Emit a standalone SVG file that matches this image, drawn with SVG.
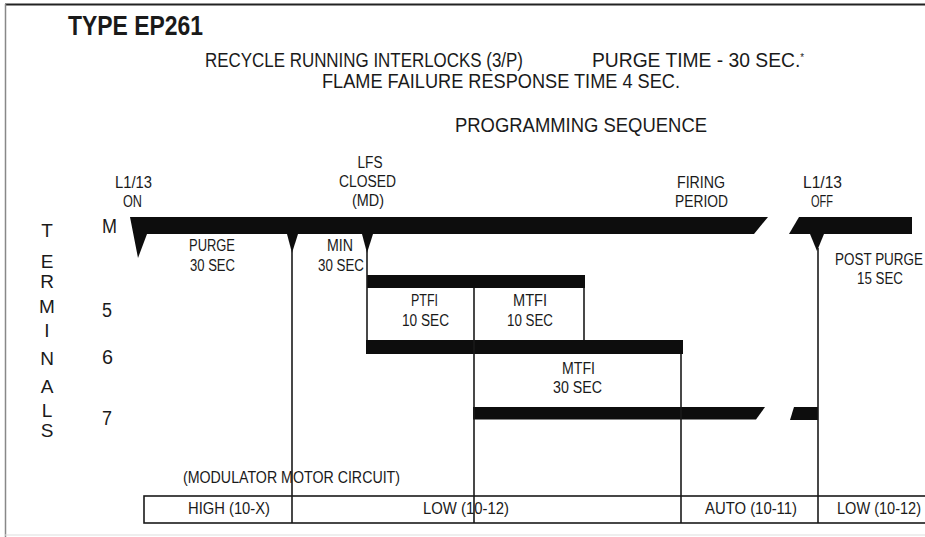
<svg xmlns="http://www.w3.org/2000/svg" width="925" height="537" viewBox="0 0 925 537">
<style>
text{font-family:"Liberation Sans",Arial,sans-serif;fill:#1a1a1a}
.t{font-size:27px;font-weight:bold}
.h{font-size:20px}
.s{font-size:16px;text-anchor:middle}
.v{font-size:19px;text-anchor:middle}
.n{font-size:20px}
.bar{fill:#0d0d0d}
.ln{stroke:#1a1a1a;stroke-width:1.6;fill:none}
</style>
<rect x="0" y="0" width="925" height="537" fill="#fff"/>
<g id="frame">
<line x1="5" y1="4.5" x2="925" y2="4.5" stroke="#222" stroke-width="2"/>
<line x1="5.5" y1="4" x2="5.5" y2="537" stroke="#888" stroke-width="1.5"/>
<line x1="5" y1="535" x2="925" y2="535" stroke="#ddd" stroke-width="1"/>
</g>
<g id="header">
<text class="t" x="68" y="35" textLength="135" lengthAdjust="spacingAndGlyphs">TYPE EP261</text>
<text class="h" x="205" y="67" textLength="318" lengthAdjust="spacingAndGlyphs">RECYCLE RUNNING INTERLOCKS (3/P)</text>
<text class="h" x="592" y="67" textLength="212" lengthAdjust="spacingAndGlyphs">PURGE TIME - 30 SEC.<tspan dy="-6" style="font-size:10px">*</tspan></text>
<text class="h" x="322" y="88" textLength="358" lengthAdjust="spacingAndGlyphs">FLAME FAILURE RESPONSE TIME 4 SEC.</text>
<text class="h" x="455" y="132" textLength="252" lengthAdjust="spacingAndGlyphs">PROGRAMMING SEQUENCE</text>
</g>
<g id="terminals-label">
<text class="v" x="47" y="237">T</text>
<text class="v" x="47" y="268">E</text>
<text class="v" x="47" y="288">R</text>
<text class="v" x="47" y="313">M</text>
<text class="v" x="47" y="337">I</text>
<text class="v" x="47" y="365">N</text>
<text class="v" x="47" y="393">A</text>
<text class="v" x="47" y="417">L</text>
<text class="v" x="47" y="437">S</text>
</g>
<g id="terminal-numbers">
<text class="n" x="102" y="233" textLength="15" lengthAdjust="spacingAndGlyphs">M</text>
<text class="n" x="102" y="317" textLength="10" lengthAdjust="spacingAndGlyphs">5</text>
<text class="n" x="102" y="364" textLength="11" lengthAdjust="spacingAndGlyphs">6</text>
<text class="n" x="102" y="425" textLength="10" lengthAdjust="spacingAndGlyphs">7</text>
</g>
<g id="event-labels">
<text class="s" x="133.5" y="188" textLength="37" lengthAdjust="spacingAndGlyphs">L1/13</text>
<text class="s" x="132.5" y="207" textLength="19" lengthAdjust="spacingAndGlyphs">ON</text>
<text class="s" x="370" y="168" textLength="25" lengthAdjust="spacingAndGlyphs">LFS</text>
<text class="s" x="367.5" y="187" textLength="57" lengthAdjust="spacingAndGlyphs">CLOSED</text>
<text class="s" x="368" y="206" textLength="32" lengthAdjust="spacingAndGlyphs">(MD)</text>
<text class="s" x="701" y="188" textLength="48" lengthAdjust="spacingAndGlyphs">FIRING</text>
<text class="s" x="701.5" y="207" textLength="53" lengthAdjust="spacingAndGlyphs">PERIOD</text>
<text class="s" x="822.5" y="188" textLength="39" lengthAdjust="spacingAndGlyphs">L1/13</text>
<text class="s" x="822" y="207" textLength="22" lengthAdjust="spacingAndGlyphs">OFF</text>
</g>
<g id="bar-M">
<polygon class="bar" points="130,217 768,217 754,234 147,234 138,258"/>
<polygon class="bar" points="287,234 298,234 292,253"/>
<polygon class="bar" points="362,234 373,234 367,253"/>
<polygon class="bar" points="799,217 912,217 912,234 789,234"/>
<polygon class="bar" points="810,234 824,234 817,251"/>
</g>
<g id="bar-5"><rect class="bar" x="367" y="275" width="218" height="13"/></g>
<g id="bar-6"><rect class="bar" x="366" y="340" width="317" height="14"/></g>
<g id="bar-7">
<polygon class="bar" points="473,407 765,407 756,419.5 473,419.5"/>
<polygon class="bar" points="794,407 818,407 818,420 790,420"/>
</g>
<g id="connectors">
<line class="ln" x1="292" y1="250" x2="292" y2="523"/>
<line class="ln" x1="367" y1="250" x2="367" y2="340"/>
<line class="ln" x1="474" y1="288" x2="474" y2="523"/>
<line class="ln" x1="584" y1="288" x2="584" y2="340"/>
<line class="ln" x1="681" y1="354" x2="681" y2="523"/>
<line class="ln" x1="818" y1="248" x2="818" y2="523"/>
</g>
<g id="interval-labels">
<text class="s" x="212" y="251" textLength="46" lengthAdjust="spacingAndGlyphs">PURGE</text>
<text class="s" x="212.5" y="271" textLength="45" lengthAdjust="spacingAndGlyphs">30 SEC</text>
<text class="s" x="340" y="251" textLength="26" lengthAdjust="spacingAndGlyphs">MIN</text>
<text class="s" x="341" y="271" textLength="46" lengthAdjust="spacingAndGlyphs">30 SEC</text>
<text class="s" x="424.5" y="306" textLength="27" lengthAdjust="spacingAndGlyphs">PTFI</text>
<text class="s" x="425.5" y="326" textLength="47" lengthAdjust="spacingAndGlyphs">10 SEC</text>
<text class="s" x="530" y="306" textLength="34" lengthAdjust="spacingAndGlyphs">MTFI</text>
<text class="s" x="530" y="326" textLength="46" lengthAdjust="spacingAndGlyphs">10 SEC</text>
<text class="s" x="578.5" y="374" textLength="33" lengthAdjust="spacingAndGlyphs">MTFI</text>
<text class="s" x="577.5" y="393" textLength="49" lengthAdjust="spacingAndGlyphs">30 SEC</text>
<text class="s" x="879" y="265" textLength="88" lengthAdjust="spacingAndGlyphs">POST PURGE</text>
<text class="s" x="880" y="284" textLength="46" lengthAdjust="spacingAndGlyphs">15 SEC</text>
</g>
<g id="modulator-circuit">
<text class="s" x="291.5" y="483" textLength="217" lengthAdjust="spacingAndGlyphs">(MODULATOR MOTOR CIRCUIT)</text>
<rect class="ln" x="144" y="496" width="800" height="27"/>
<text class="s" x="229" y="514" textLength="82" lengthAdjust="spacingAndGlyphs">HIGH (10-X)</text>
<text class="s" x="466" y="514" textLength="86" lengthAdjust="spacingAndGlyphs">LOW (10-12)</text>
<text class="s" x="751" y="514" textLength="92" lengthAdjust="spacingAndGlyphs">AUTO (10-11)</text>
<text class="s" x="879" y="514" textLength="84" lengthAdjust="spacingAndGlyphs">LOW (10-12)</text>
</g>
</svg>
